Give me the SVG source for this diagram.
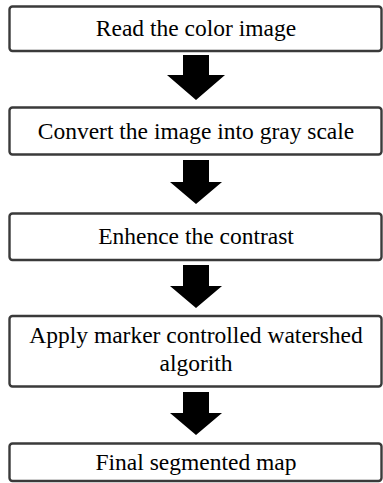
<svg xmlns="http://www.w3.org/2000/svg" width="383" height="483" viewBox="0 0 383 483">
<style>
.box{fill:#fff;stroke:#3a3a3a;stroke-width:2.4}
.lbl{font-family:"Liberation Serif","Times New Roman",serif;font-size:23.5px;fill:#000;text-anchor:middle}
.arr{fill:#000}
</style>
<rect width="383" height="483" fill="#fff"/>
<g id="n1"><rect class="box" x="9.5" y="6.5" width="372" height="44.5" rx="3"/><text class="lbl" x="196" y="36">Read the color image</text></g>
<g id="n2"><rect class="box" x="9.5" y="107.5" width="372" height="47" rx="3"/><text class="lbl" x="196" y="139">Convert the image into gray scale</text></g>
<g id="n3"><rect class="box" x="9.5" y="213.5" width="372" height="46.5" rx="3"/><text class="lbl" x="196" y="244">Enhence the contrast</text></g>
<g id="n4"><rect class="box" x="9.5" y="316" width="372" height="70.5" rx="3"/><text class="lbl" x="196" y="343">Apply marker controlled watershed</text><text class="lbl" x="196" y="370.5">algorith</text></g>
<g id="n5"><rect class="box" x="9.5" y="443.5" width="372" height="37.5" rx="3"/><text class="lbl" x="196" y="470">Final segmented map</text></g>
<g id="connectors">
<polygon class="arr" points="183,55 209,55 209,75 225,75 196,100 167,75 183,75"/>
<polygon class="arr" points="183,160 209,160 209,182 222,182 196,204 170,182 183,182"/>
<polygon class="arr" points="183,265 209,265 209,286 222,286 196,308 170,286 183,286"/>
<polygon class="arr" points="183,392 209,392 209,413 222,413 196,435 170,413 183,413"/>
</g>
</svg>
